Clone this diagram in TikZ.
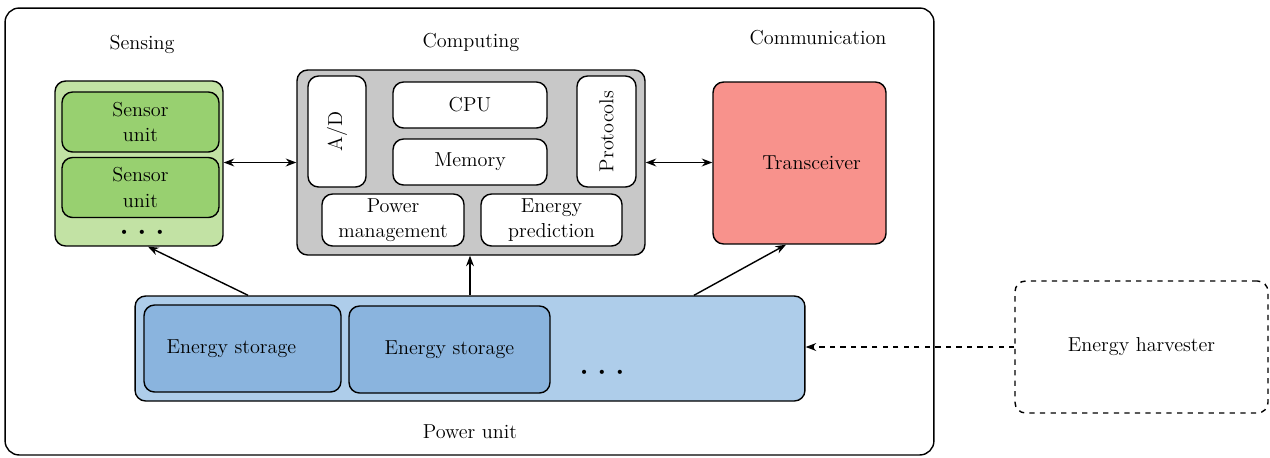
\documentclass[tikz,border=0pt]{standalone}
\usepackage{tikz}
\usetikzlibrary{arrows.meta}
\definecolor{sensbg}{HTML}{C2E2A4}
\definecolor{sensfg}{HTML}{98D070}
\definecolor{compbg}{HTML}{C8C8C8}
\definecolor{trxbg}{HTML}{F8928C}
\definecolor{powbg}{HTML}{AECDEA}
\definecolor{powfg}{HTML}{8AB4DE}
\newcommand\block[6]{\node[box,fill=#2,minimum width=#4cm,minimum height=#5cm] (#1) at (#3) {#6};}
\newcommand\more[2]{\node[font=\footnotesize] (#1) at (#2) {\textbullet\hspace{0.45em}\textbullet\hspace{0.45em}\textbullet};}

\begin{document}
\begin{tikzpicture}[x=0.02cm,y=-0.02cm]
\tikzstyle{box}=[draw,thick,rounded corners=6pt,align=center,inner sep=0pt,font=\fontsize{11.5}{14.5}\selectfont]
\tikzstyle{tag}=[font=\fontsize{11.5}{14.5}\selectfont]
\tikzstyle{link}=[-{Stealth[length=6pt,width=4.5pt]},thick]
\tikzstyle{both}=[{Stealth[length=6pt,width=4.5pt]}-{Stealth[length=6pt,width=4.5pt]},thick]
\useasboundingbox (0,0) rectangle (1270,457);
\node[draw,thick,rounded corners=8pt,minimum width=18.58cm,minimum height=8.94cm] (node) at (469.5,231.5) {};
% labels
\node[tag] (lsense) at (142,44) {Sensing};
\node[tag] (lcomp) at (471,42) {Computing};
\node[tag] (lcomm) at (818,38) {Communication};
\node[tag] (lpow) at (470,432) {Power unit};
% sensing
\block{sense}{sensbg}{139,163.5}{3.36}{3.3}{}
\block{su1}{sensfg}{140.5,122}{3.14}{1.2}{Sensor\\unit}
\block{su2}{sensfg}{140.5,187.5}{3.14}{1.2}{Sensor\\unit}
\more{sdots}{142,233}
% computing
\block{comp}{compbg}{471,162.5}{6.96}{3.7}{}
\block{ad}{white}{337,131.5}{1.16}{2.22}{\rotatebox{90}{A/D}}
\block{cpu}{white}{470,105}{3.08}{0.92}{CPU}
\block{mem}{white}{470,162}{3.08}{0.92}{Memory}
\block{proto}{white}{606.5,131.5}{1.18}{2.22}{\rotatebox{90}{Protocols}}
\block{pm}{white}{393,220}{2.84}{1.04}{Power\\management}
\block{ep}{white}{551.5,220}{2.82}{1.04}{Energy\\prediction}
% communication
\block{trx}{trxbg}{799.5,163}{3.46}{3.24}{\hspace*{0.48cm}Transceiver}
% power
\block{pu}{powbg}{470,348.5}{13.4}{2.1}{}
\block{es1}{powfg}{242.5,348.5}{3.94}{1.74}{Energy storage\hspace*{0.44cm}}
\block{es2}{powfg}{449.5,349.5}{4.02}{1.74}{Energy storage}
\more{pdots}{602,373}
% harvester
\node[box,dashed,minimum width=5.06cm,minimum height=2.64cm] (harv) at (1141.5,347) {Energy harvester};
% links
\draw[both] (sense.east |- comp.west) -- (comp.west);
\draw[both] (comp.east) -- (comp.east -| trx.west);
\draw[link] ([xshift=-4.44cm]pu.north) -- ([xshift=0.18cm]sense.south);
\draw[link] (pu.north) -- (pu.north |- comp.south);
\draw[link] ([xshift=4.48cm]pu.north) -- ([xshift=-0.27cm]trx.south);
\draw[link,semithick,dashed] (harv.west) -- (harv.west -| pu.east);
\end{tikzpicture}
\end{document}
